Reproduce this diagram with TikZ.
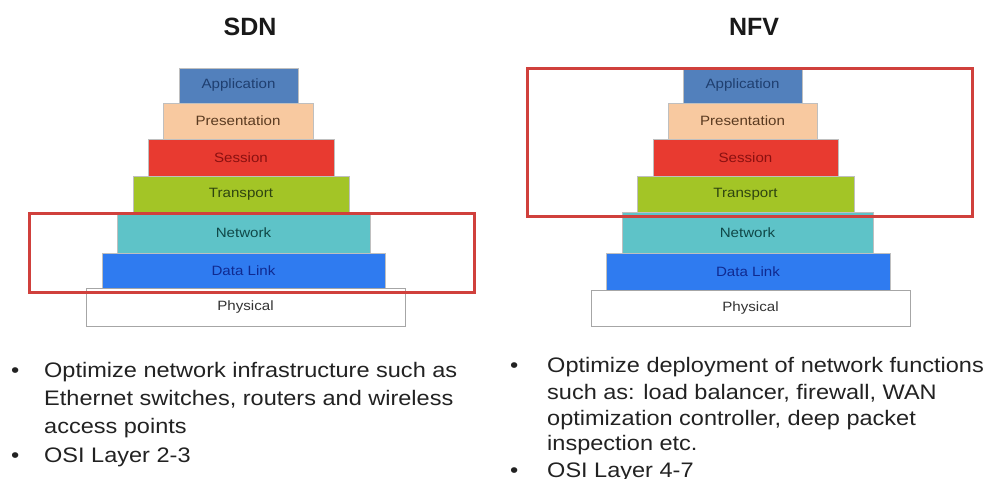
\documentclass[tikz,border=0pt]{standalone}
\usepackage{fontspec}
\setmainfont{Liberation Sans}
\newfontfamily\widefont[FakeStretch=1.12]{Liberation Sans}
\definecolor{appC}{HTML}{5280BC}
\definecolor{appT}{HTML}{1F3F70}
\definecolor{preC}{HTML}{F8C9A0}
\definecolor{preT}{HTML}{5A3A20}
\definecolor{sesC}{HTML}{E83A30}
\definecolor{sesT}{HTML}{8A1010}
\definecolor{traC}{HTML}{A3C526}
\definecolor{traT}{HTML}{2E4410}
\definecolor{netC}{HTML}{5EC3C8}
\definecolor{netT}{HTML}{104848}
\definecolor{dlC}{HTML}{2F7BF0}
\definecolor{dlT}{HTML}{102A90}
\definecolor{phyT}{HTML}{333333}
\definecolor{boxC}{HTML}{D0403C}
\definecolor{txtC}{HTML}{222222}
\tikzset{
  layer/.style={anchor=north west, inner sep=0pt, outer sep=0pt, draw=black!25, line width=0.6pt,
    font=\widefont\fontsize{13.5}{14}\selectfont},
  hilite/.style={draw=boxC, line width=3pt},
  ttl/.style={anchor=base, font=\bfseries\fontsize{25}{28}\selectfont, text=black!90},
  bl/.style={anchor=base west, inner sep=0pt, font=\widefont\fontsize{21}{26}\selectfont, text=txtC},
}
\begin{document}
\begin{tikzpicture}[x=1pt,y=-1pt]
\useasboundingbox[fill=white] (0,0) rectangle (988,479);
% titles
\node[ttl] (tsdn) at (250,35) {SDN};
\node[ttl] (tnfv) at (754,35) {NFV};
% SDN stack
\node[layer, fill=appC, text=appT, minimum width=119pt, minimum height=35pt] (sa) at (179,68) {Application};
\node[layer, fill=preC, text=preT, minimum width=150pt, minimum height=36pt] (sp) at (163,103) {Presentation};
\node[layer, fill=sesC, text=sesT, minimum width=186pt, minimum height=37pt] (ss) at (148,139) {Session};
\node[layer, fill=traC, text=traT, minimum width=216pt, minimum height=36pt] (st) at (133,176) {Transport};
\node[layer, fill=netC, text=netT, minimum width=253pt, minimum height=41pt] (sn) at (117,212) {Network};
\node[layer, fill=dlC, text=dlT, minimum width=283pt, minimum height=35pt] (sd) at (102,253) {Data Link};
\node[layer, fill=white, text=phyT, draw=black!35, minimum width=319pt, minimum height=38pt] (sy) at (86,288) {Physical};
\node[hilite, anchor=north west, inner sep=0pt, minimum width=445pt, minimum height=79pt] (sbox) at (28,212) {};
% NFV stack
\node[layer, fill=appC, text=appT, minimum width=119pt, minimum height=35pt] (na) at (683,68) {Application};
\node[layer, fill=preC, text=preT, minimum width=149pt, minimum height=36pt] (np) at (668,103) {Presentation};
\node[layer, fill=sesC, text=sesT, minimum width=185pt, minimum height=37pt] (ns) at (653,139) {Session};
\node[layer, fill=traC, text=traT, minimum width=217pt, minimum height=36pt] (nt) at (637,176) {Transport};
\node[layer, fill=netC, text=netT, minimum width=251pt, minimum height=41pt] (nn) at (622,212) {Network};
\node[layer, fill=dlC, text=dlT, minimum width=284pt, minimum height=37pt] (nd) at (606,253) {Data Link};
\node[layer, fill=white, text=phyT, draw=black!35, minimum width=319pt, minimum height=36pt] (ny) at (591,290) {Physical};
\node[hilite, anchor=north west, inner sep=0pt, minimum width=445pt, minimum height=148pt] (nbox) at (526,67) {};
% SDN bullets
\node[bl] (sb1) at (11,377) {•};
\node[bl] (sl1) at (44,377) {Optimize network infrastructure such as};
\node[bl] (sl2) at (44,405) {Ethernet switches, routers and wireless};
\node[bl] (sl3) at (44,433) {access points};
\node[bl] (sb2) at (11,462) {•};
\node[bl] (sl4) at (44,462) {OSI Layer 2-3};
% NFV bullets
\node[bl] (nb1) at (510,372) {•};
\node[bl] (nl1) at (547,372) {Optimize deployment of network functions};
\node[bl] (nl2) at (547,399) {such as: load balancer, firewall, WAN};
\node[bl] (nl3) at (547,425) {optimization controller, deep packet};
\node[bl] (nl4) at (547,450) {inspection etc.};
\node[bl] (nb2) at (510,477) {•};
\node[bl] (nl5) at (547,477) {OSI Layer 4-7};
\end{tikzpicture}
\end{document}
